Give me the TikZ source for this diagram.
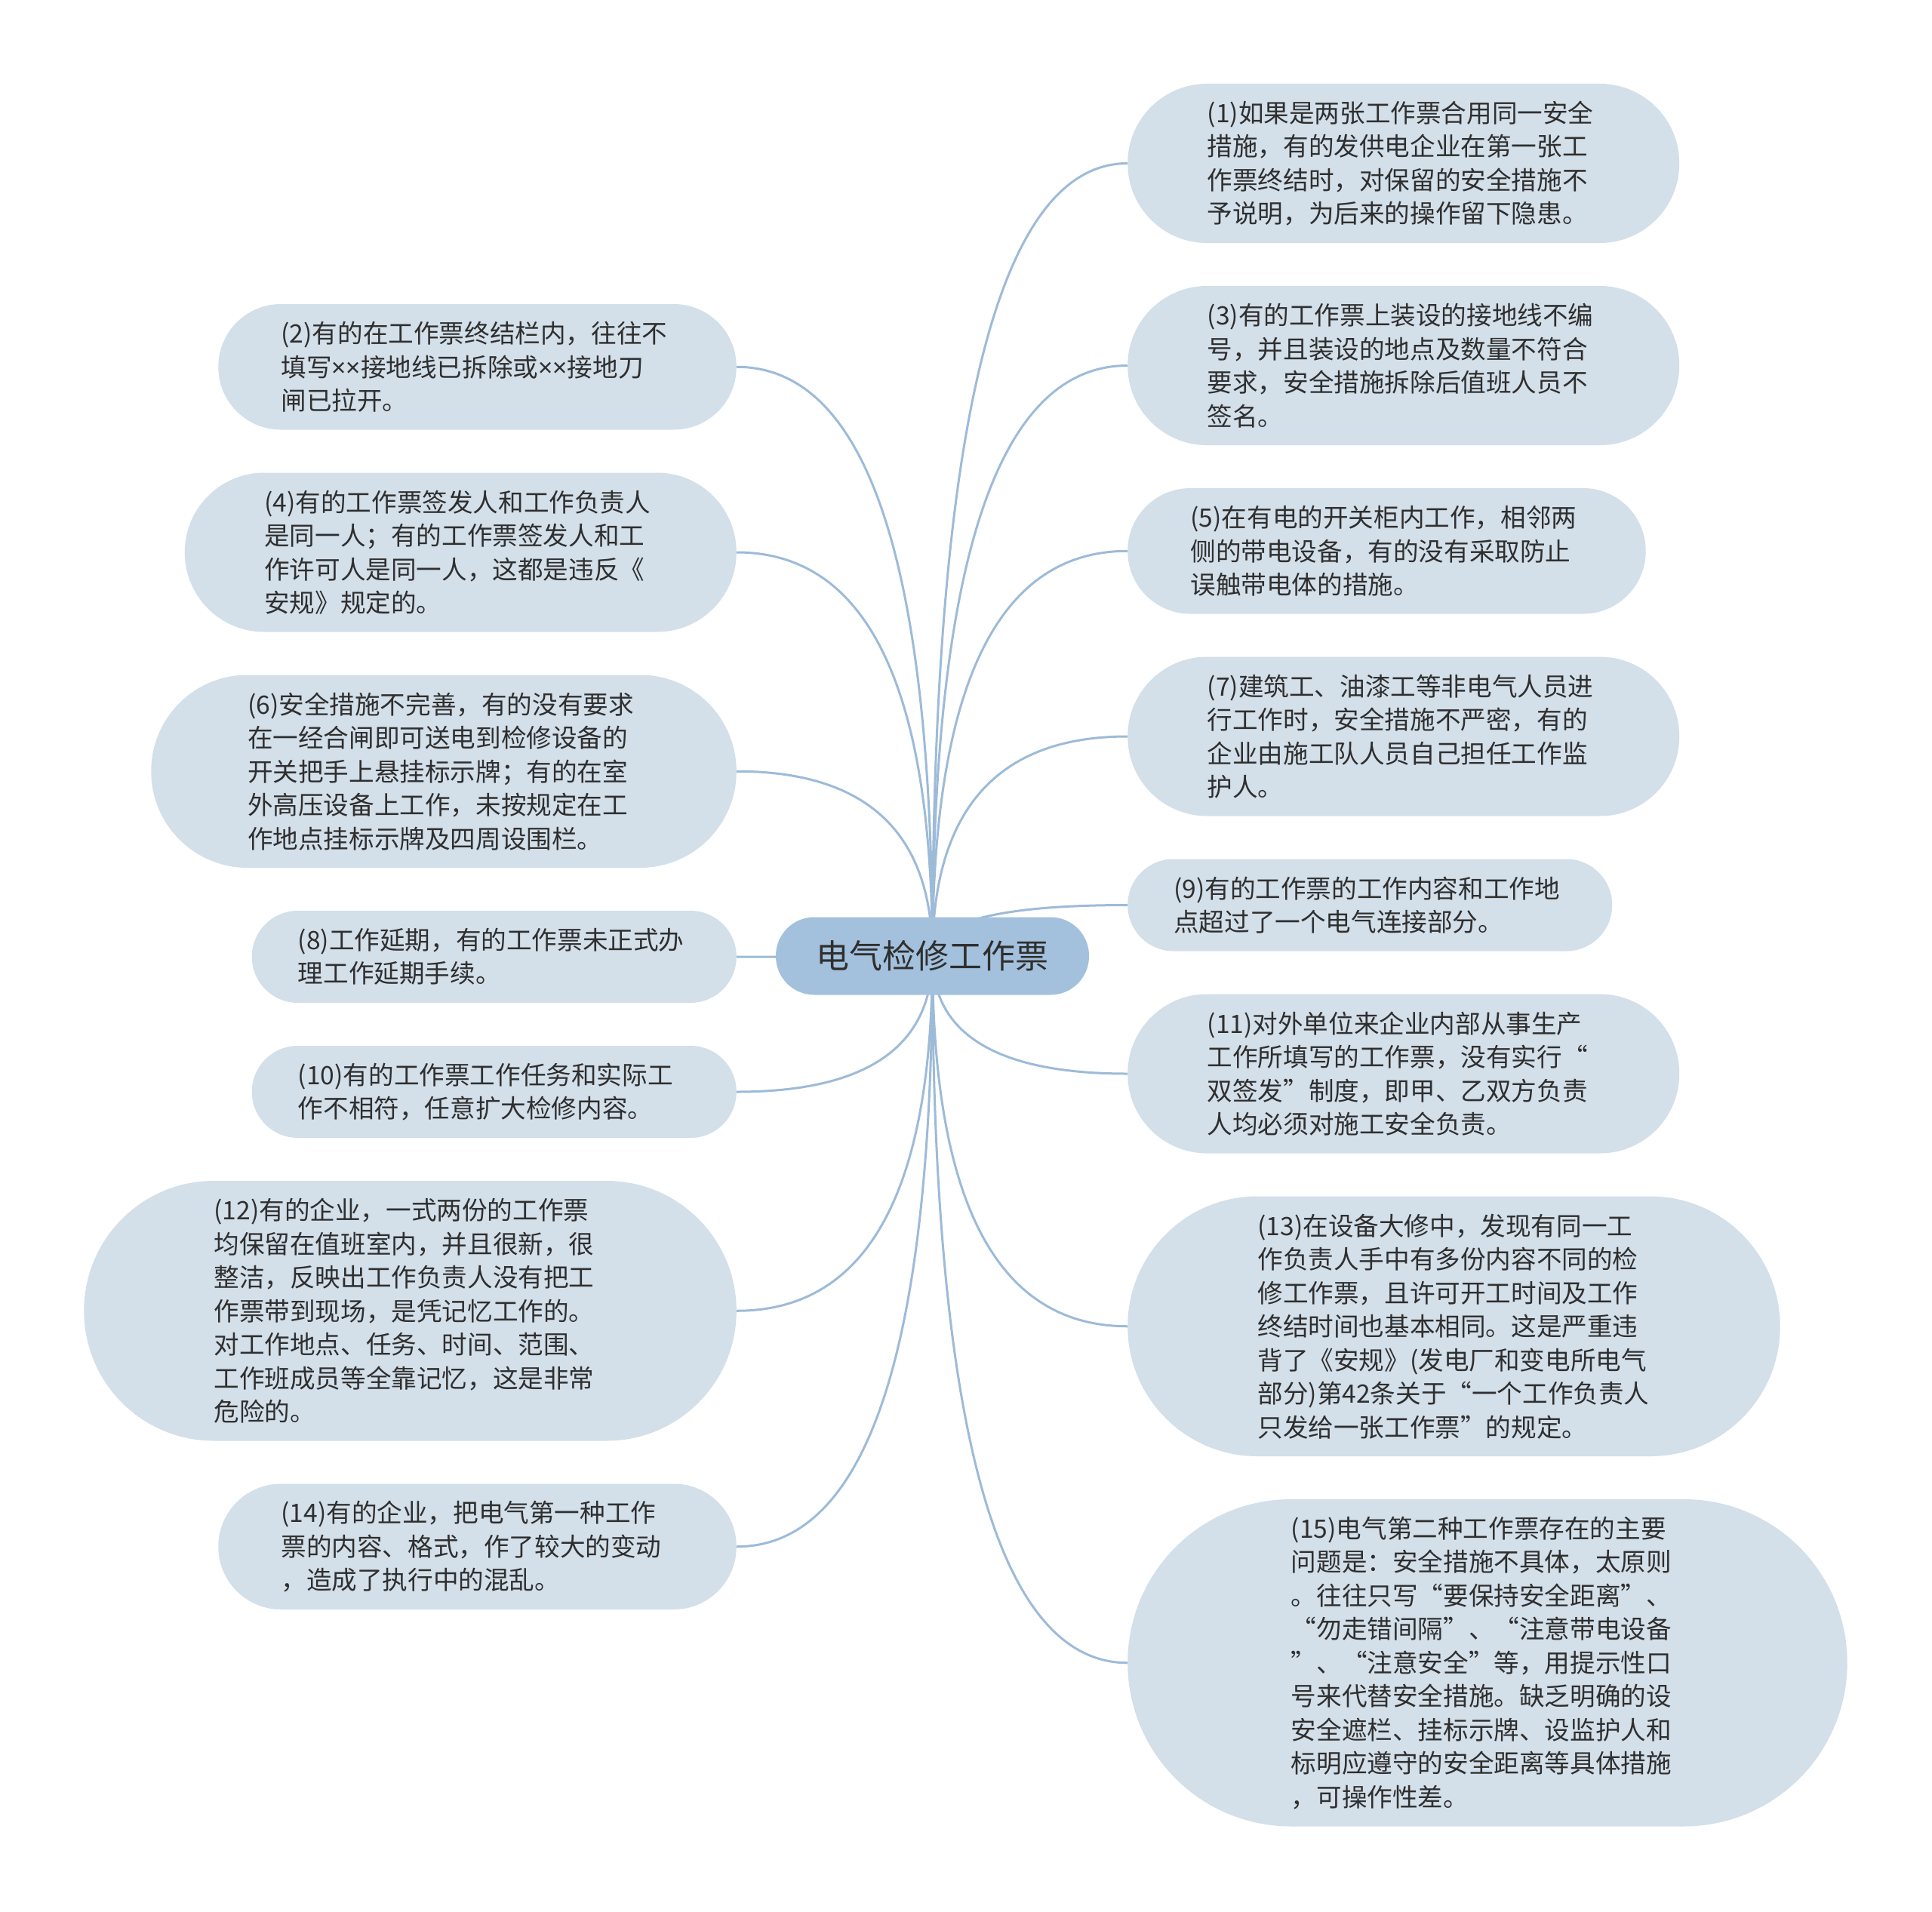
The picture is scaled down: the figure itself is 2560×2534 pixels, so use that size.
\documentclass[tikz,border=0pt]{standalone}
\usepackage{fontspec}
\newfontfamily\cjk{Noto Sans CJK SC}
\newfontfamily\latn{Noto Sans}
\newcommand\tms{{\latn ×}}
\usetikzlibrary{calc,backgrounds}
\definecolor{leaffill}{HTML}{D3DFE9}
\definecolor{rootfill}{HTML}{A3C1DD}
\definecolor{linkc}{HTML}{9DBBD8}
\definecolor{txt}{HTML}{2F2F2F}
\tikzset{
  leaf/.style={fill=leaffill, text=txt, inner sep=0pt, align=left, text width=520pt,
    font=\cjk\fontsize{33.6pt}{44.5pt}\selectfont,
    minimum height={44.5pt*#1+33pt}, minimum width={553pt+44.5pt*#1},
    rounded corners={22.25pt*#1+16.3pt}},
  rootnode/.style={fill=rootfill, text=txt, inner sep=0pt,
    font=\cjk\fontsize{44pt}{52pt}\selectfont,
    minimum width=415pt, minimum height=103pt, rounded corners=51pt},
  link/.style={draw=linkc, line width=3pt}
}
\begin{document}
\begin{tikzpicture}[x=1pt,y=-1pt]
\useasboundingbox (0,0) rectangle (2560,2534);
\node[rootnode] (root) at (1235.5,1267) {电气检修工作票};
% right column
\node[leaf=4, anchor=west] (n1) at (1494,216.5) {(1)如果是两张工作票合用同一安全\\措施，有的发供电企业在第一张工\\作票终结时，对保留的安全措施不\\予说明，为后来的操作留下隐患。};
\node[leaf=4, anchor=west] (n3) at (1494,484.5) {(3)有的工作票上装设的接地线不编\\号，并且装设的地点及数量不符合\\要求，安全措施拆除后值班人员不\\签名。};
\node[leaf=3, anchor=west] (n5) at (1494,730.25) {(5)在有电的开关柜内工作，相邻两\\侧的带电设备，有的没有采取防止\\误触带电体的措施。};
\node[leaf=4, anchor=west] (n7) at (1494,976) {(7)建筑工、油漆工等非电气人员进\\行工作时，安全措施不严密，有的\\企业由施工队人员自己担任工作监\\护人。};
\node[leaf=2, anchor=west] (n9) at (1494,1199.5) {(9)有的工作票的工作内容和工作地\\点超过了一个电气连接部分。};
\node[leaf=4, anchor=west] (n11) at (1494,1423) {(11)对外单位来企业内部从事生产\\工作所填写的工作票，没有实行“\\双签发”制度，即甲、乙双方负责\\人均必须对施工安全负责。};
\node[leaf=7, anchor=west] (n13) at (1494,1757.75) {(13)在设备大修中，发现有同一工\\作负责人手中有多份内容不同的检\\修工作票，且许可开工时间及工作\\终结时间也基本相同。这是严重违\\背了《安规》(发电厂和变电所电气\\部分)第42条关于“一个工作负责人\\只发给一张工作票”的规定。};
\node[leaf=9, anchor=west] (n15) at (1494,2203.75) {(15)电气第二种工作票存在的主要\\问题是：安全措施不具体，太原则\\。往往只写“要保持安全距离”、\\“勿走错间隔”、“注意带电设备\\”、“注意安全”等，用提示性口\\号来代替安全措施。缺乏明确的设\\安全遮栏、挂标示牌、设监护人和\\标明应遵守的安全距离等具体措施\\，可操作性差。};
% left column
\node[leaf=3, anchor=east] (n2) at (976,486.25) {(2)有的在工作票终结栏内，往往不\\填写\tms\tms 接地线已拆除或\tms\tms 接地刀\\闸已拉开。};
\node[leaf=4, anchor=east] (n4) at (976,732) {(4)有的工作票签发人和工作负责人\\是同一人；有的工作票签发人和工\\作许可人是同一人，这都是违反《\\安规》规定的。};
\node[leaf=5, anchor=east] (n6) at (976,1022.25) {(6)安全措施不完善，有的没有要求\\在一经合闸即可送电到检修设备的\\开关把手上悬挂标示牌；有的在室\\外高压设备上工作，未按规定在工\\作地点挂标示牌及四周设围栏。};
\node[leaf=2, anchor=east] (n8) at (976,1268) {(8)工作延期，有的工作票未正式办\\理工作延期手续。};
\node[leaf=2, anchor=east] (n10) at (976,1447) {(10)有的工作票工作任务和实际工\\作不相符，任意扩大检修内容。};
\node[leaf=7, anchor=east] (n12) at (976,1737.25) {(12)有的企业，一式两份的工作票\\均保留在值班室内，并且很新，很\\整洁，反映出工作负责人没有把工\\作票带到现场，是凭记忆工作的。\\对工作地点、任务、时间、范围、\\工作班成员等全靠记忆，这是非常\\危险的。};
\node[leaf=3, anchor=east] (n14) at (976,2049.75) {(14)有的企业，把电气第一种工作\\票的内容、格式，作了较大的变动\\，造成了执行中的混乱。};
\begin{scope}[on background layer]
\fill[white] (0,0) rectangle (2560,2534);
\foreach \n/\a in {n1/west,n3/west,n5/west,n7/west,n9/west,n11/west,n13/west,n15/west,
                   n2/east,n4/east,n6/east,n8/east,n10/east,n12/east,n14/east}{
  \draw[link] (root.center) .. controls ($(root.center)!0.6667!(root.center |- \n.\a)$)
     and ($(\n.\a)!0.6667!(root.center |- \n.\a)$) .. (\n.\a);
}
\end{scope}
\end{tikzpicture}
\end{document}
